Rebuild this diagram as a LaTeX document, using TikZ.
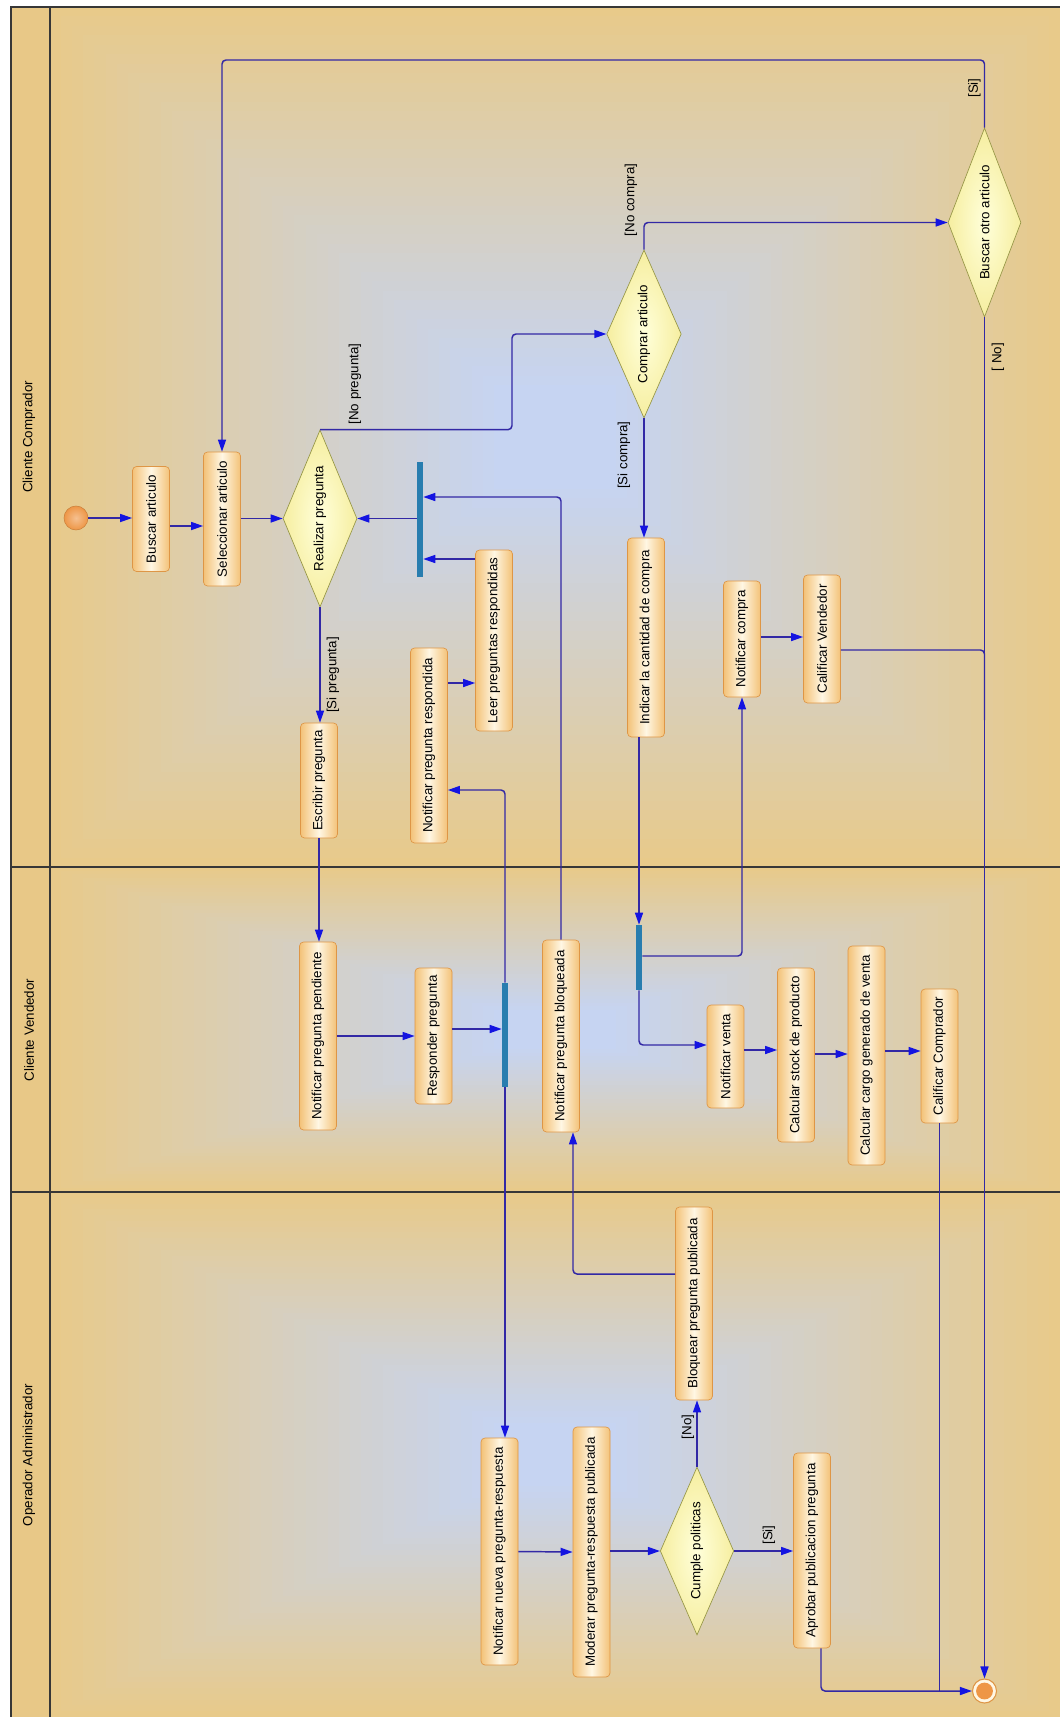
\documentclass[tikz,border=0pt]{standalone}
\usepackage{fontspec}
\setmainfont{Liberation Sans}
\usetikzlibrary{shapes.geometric,arrows.meta}
\definecolor{tanc}{RGB}{232,202,138}
\definecolor{bluec}{RGB}{198,212,242}
\definecolor{headc}{RGB}{232,200,135}
\definecolor{framec}{RGB}{55,55,55}
\definecolor{boxedge}{RGB}{243,194,120}
\definecolor{boxmid}{RGB}{255,247,228}
\definecolor{boxborder}{RGB}{222,150,70}
\definecolor{decin}{RGB}{255,255,218}
\definecolor{decout}{RGB}{246,238,160}
\definecolor{decborder}{RGB}{150,150,70}
\definecolor{barc}{RGB}{40,125,175}
\definecolor{linec}{RGB}{50,40,165}
\definecolor{arrowc}{RGB}{20,20,225}
\definecolor{initc}{RGB}{238,150,70}
\newcommand\lblfont{\fontsize{10}{12}\selectfont}
\begin{document}
\begin{tikzpicture}[x=0.75pt,y=-0.75pt,
  act/.style={rotate=90, draw=boxborder, line width=0.5pt, rounded corners=3pt,
    left color=boxedge, right color=boxedge, middle color=boxmid,
    minimum height=27.75pt, inner sep=1pt, font=\lblfont},
  dec/.style={diamond, aspect=2.4, rotate=90, draw=decborder, line width=0.5pt,
    inner color=decin, outer color=decout, inner sep=0pt, font=\lblfont},
  barst/.style={rectangle, fill=barc, minimum width=4.5pt, inner sep=0pt, draw=none},
  flow/.style={draw=linec, line width=1.1pt, rounded corners=3pt,
    -{Triangle[length=9pt,width=6pt,color=arrowc]}},
  link/.style={draw=linec, line width=1.1pt, rounded corners=3pt},
  guard/.style={rotate=90, font=\lblfont, inner sep=0pt},
  lane/.style={rotate=90, font=\lblfont}]
\useasboundingbox (0,0) rectangle (1060,1717);
\fill[white] (0,0) rectangle (1060,1717);
% lane backgrounds
\foreach \ya/\yb in {7/867,867/1192,1192/1717}{
  \foreach \i in {0,...,40}{
    \pgfmathsetmacro\shf{100*(1-\i/40)}
    \pgfmathsetmacro\shx{\i/40*505*0.88}
    \pgfmathsetmacro\shy{\i/40*(\yb-\ya)/2*0.88}
    \fill[tanc!\shf!bluec] ({50+\shx},{\ya+\shy}) rectangle ({1060-\shx},{\yb-\shy});
  }
}
\fill[headc] (11,7) rectangle (50,1717);
% frame and lanes
\draw[framec, line width=1.2pt] (11,1717) -- (11,7) -- (1060,7);
\draw[framec, line width=1pt] (50,7) -- (50,1717);
\draw[framec, line width=1pt] (11,867) -- (1060,867);
\draw[framec, line width=1pt] (11,1192) -- (1060,1192);
\node[lane] (lane1) at (29,437) {Cliente Comprador};
\node[lane] (lane2) at (29,1030) {Cliente Vendedor};
\node[lane] (lane3) at (29,1455) {Operador Administrador};

% nodes - Cliente Comprador
\node[circle, minimum size=18pt, inner sep=0pt, draw=initc!85!black, line width=0.4pt,
  inner color=initc!60!white, outer color=initc] (init) at (76,518) {};
\node[act, minimum width=78.75pt] (buscar) at (151,519) {Buscar articulo};
\node[act, minimum width=100.5pt] (selec) at (222,519) {Seleccionar articulo};
\node[dec, minimum width=132.75pt, minimum height=55.5pt] (realizar) at (320,518.5) {Realizar pregunta};
\node[barst, minimum height=86.25pt] (bar1) at (420,519.5) {};
\node[act, minimum width=135.75pt] (leer) at (494,640.5) {Leer preguntas respondidas};
\node[act, minimum width=146.25pt] (npr) at (429,745.5) {Notificar pregunta respondida};
\node[act, minimum width=86.25pt] (escribir) at (319,780.5) {Escribir pregunta};
\node[dec, minimum width=126pt, minimum height=55.9pt] (comprar) at (644,334) {Comprar articulo};
\node[dec, minimum width=141.75pt, minimum height=54.75pt] (buscarotro) at (984.5,222.5) {Buscar otro articulo};
\node[act, minimum width=149.25pt] (indicar) at (646,637.5) {Indicar la cantidad de compra};
\node[act, minimum width=87pt] (ncompra) at (742,639) {Notificar compra};
\node[act, minimum width=96pt] (cvend) at (822,639) {Calificar Vendedor};

% nodes - Cliente Vendedor
\node[act, minimum width=141pt] (npp) at (318,1036) {Notificar pregunta pendiente};
\node[act, minimum width=102pt] (responder) at (433.5,1036) {Responder pregunta};
\node[barst, minimum height=78pt] (bar2) at (505,1035) {};
\node[act, minimum width=144pt] (npb) at (561,1036) {Notificar pregunta bloqueada};
\node[barst, minimum height=48.75pt] (bar3) at (639,957.5) {};
\node[act, minimum width=77.25pt] (nventa) at (725.5,1056.5) {Notificar venta};
\node[act, minimum width=130.5pt] (cstock) at (796,1055) {Calcular stock de producto};
\node[act, minimum width=164.25pt] (ccargo) at (866.5,1055.5) {Calcular cargo generado de venta};
\node[act, minimum width=100.5pt] (ccomp) at (939.5,1056) {Calificar Comprador};

% nodes - Operador Administrador
\node[act, minimum width=170.25pt] (nnpr) at (499.5,1551.5) {Notificar nueva pregunta-respuesta};
\node[act, minimum width=187.5pt] (moderar) at (591.5,1552) {Moderar pregunta-respuesta publicada};
\node[dec, minimum width=126pt, minimum height=55.1pt] (cumple) at (697,1551) {Cumple politicas};
\node[act, minimum width=144.75pt] (bloquear) at (694,1303.5) {Bloquear pregunta publicada};
\node[act, minimum width=146.25pt] (aprobar) at (812,1550.5) {Aprobar publicacion pregunta};
\node[circle, minimum size=18pt, inner sep=0pt, draw=boxborder, line width=0.8pt, fill=boxmid] (final) at (984.5,1691) {};
\fill[initc] (final.center) circle (6.3pt);

% guards
\node[guard] (gsip) at (333,675) {[Si pregunta]};
\node[guard] (gnop) at (355,384) {[No pregunta]};
\node[guard] (gsic) at (624,455) {[Si compra]};
\node[guard] (gnoc) at (631,200) {[No compra]};
\node[guard] (gsio) at (974.5,88) {[Si]};
\node[guard] (gnoo) at (998,357) {[ No]};
\node[guard] (gnocp) at (688,1427) {[No]};
\node[guard] (gsicp) at (769,1535) {[Si]};

% connectors
\draw[flow] (init.east) -- (init.east -| buscar.north);
\draw[flow] (buscar.south |- 0,526) -- (selec.north |- 0,526);
\draw[flow] (selec.south |- realizar.north) -- (realizar.north);
\draw[flow] (bar1.west |- realizar.south) -- (realizar.south);
\draw[flow] (npb.east) |- (bar1.east |- 0,497);
\draw[flow] (leer.north |- 0,559) -- (bar1.east |- 0,559);
\draw[flow] (npr.south |- 0,683) -- (leer.north |- 0,683);
\draw[flow] (realizar.west) -- (realizar.west |- escribir.east);
\draw[flow] (realizar.east) -| (512,380) |- (comprar.north);
\draw[flow] (comprar.west) -- (comprar.west |- indicar.east);
\draw[flow] (comprar.east) |- (buscarotro.north);
\draw[flow] (buscarotro.east) |- (600,60) -| (selec.east);
\draw[flow] (buscarotro.west) -- (buscarotro.west |- final.north);
\draw[link] (cvend.south |- 0,650) -| (buscarotro.west |- 0,720);
\draw[flow] (ncompra.south |- 0,637) -- (cvend.north |- 0,637);
\draw[flow] (escribir.west) -- (escribir.west |- npp.east);
\draw[flow] (npp.south) -- (responder.north);
\draw[flow] (responder.south |- 0,1029) -- (bar2.west |- 0,1029);
\draw[flow] (bar2.north) |- (npr.south |- 0,790);
\draw[flow] (bar2.south) -- (bar2.south |- nnpr.east);
\draw[flow] (nnpr.south) -- (moderar.north);
\draw[flow] (moderar.south |- cumple.north) -- (cumple.north);
\draw[flow] (cumple.east) -- (cumple.east |- bloquear.west);
\draw[flow] (cumple.south) -- (cumple.south -| aprobar.north);
\draw[flow] (bloquear.north |- 0,1274) -| (npb.west -| 573,0);
\draw[flow] (indicar.west -| bar3.north) -- (bar3.north);
\draw[flow] (bar3.east |- 0,956) -| (ncompra.west);
\draw[flow] (bar3.south) |- (nventa.north |- 0,1045);
\draw[flow] (nventa.south |- 0,1050) -- (cstock.north |- 0,1050);
\draw[flow] (cstock.south |- 0,1054) -- (ccargo.north |- 0,1054);
\draw[flow] (ccargo.south |- 0,1051) -- (ccomp.north |- 0,1051);
\draw[link] (ccomp.west) -- (ccomp.west |- final.west);
\draw[flow] (aprobar.west -| 821,0) |- (final.west);
\end{tikzpicture}
\end{document}
